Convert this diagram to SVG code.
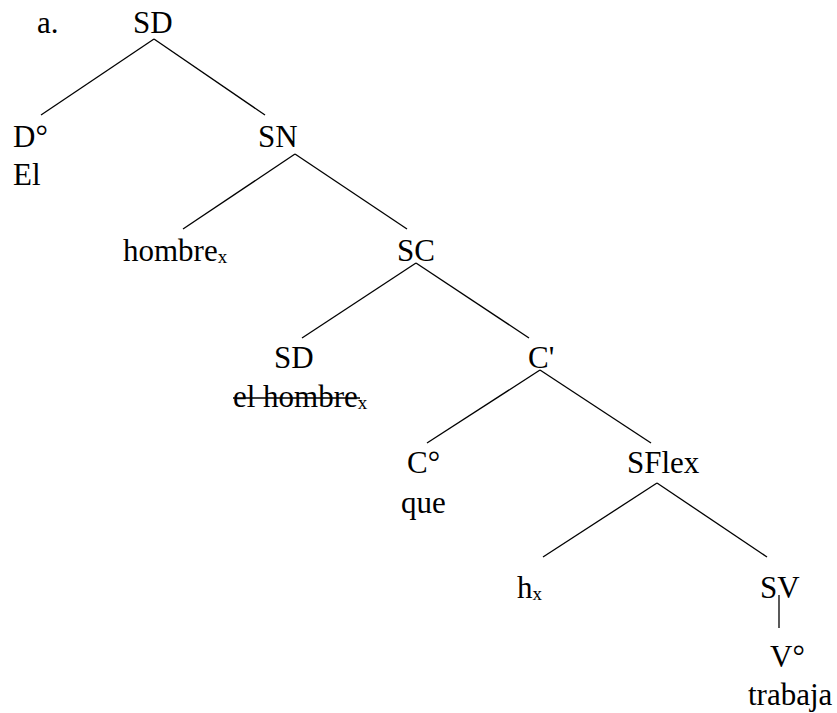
<svg xmlns="http://www.w3.org/2000/svg" width="837" height="713" viewBox="0 0 837 713">
<style>
text{font-family:"Liberation Serif","Times New Roman",serif;font-size:31px;fill:#000}
.sub{font-size:19px}
line{stroke:#000;stroke-width:1.3}
</style>
<rect width="837" height="713" fill="#fff"/>
<g id="connectors">
<line x1="154" y1="39" x2="41" y2="115"/>
<line x1="154" y1="39" x2="265" y2="115"/>
<line x1="295" y1="154" x2="183" y2="229"/>
<line x1="295" y1="154" x2="407" y2="229"/>
<line x1="416" y1="263" x2="302" y2="338"/>
<line x1="416" y1="263" x2="529" y2="338"/>
<line x1="540" y1="370" x2="427" y2="443"/>
<line x1="540" y1="370" x2="651" y2="443"/>
<line x1="657" y1="483" x2="543" y2="557"/>
<line x1="657" y1="483" x2="767" y2="557"/>
<line x1="779" y1="595" x2="779" y2="628"/>
</g>
<g id="label-a"><text x="37" y="33">a.</text></g>
<g id="SD-root"><text x="133" y="33">SD</text></g>
<g id="D"><text x="13" y="147">D°</text><text x="13" y="185">El</text></g>
<g id="SN"><text x="258" y="147">SN</text></g>
<g id="hombre"><text x="123" y="261">hombre<tspan class="sub" dy="2">x</tspan></text></g>
<g id="SC"><text x="397" y="261">SC</text></g>
<g id="SD2"><text x="274" y="368">SD</text><text x="233" y="407">el hombre<tspan class="sub" dy="2">x</tspan></text><line x1="233" y1="398" x2="360" y2="398"/></g>
<g id="Cbar"><text x="528" y="368">C'</text></g>
<g id="C0"><text x="407" y="473">C°</text><text x="401" y="513">que</text></g>
<g id="SFlex"><text x="627" y="473">SFlex</text></g>
<g id="h"><text x="517" y="598">h<tspan class="sub" dy="2">x</tspan></text></g>
<g id="SV"><text x="760" y="598">SV</text></g>
<g id="V0"><text x="770" y="667">V°</text><text x="748" y="705">trabaja</text></g>
</svg>
